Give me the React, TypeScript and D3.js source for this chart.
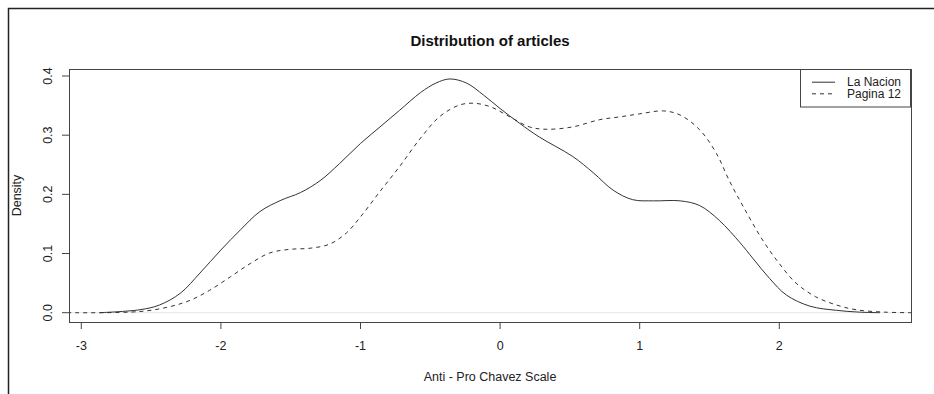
import * as d3 from "d3";

const title = "Distribution of articles";
const xLabel = "Anti - Pro Chavez Scale";
const yLabel = "Density";
const seriesNames = ["La Nacion", "Pagina 12"];
const xTicks = [-3, -2, -1, 0, 1, 2];
const yTicks = [0, 0.1, 0.2, 0.3, 0.4];

// La Nacion (solid)
const nacionX = [-2.87, -2.58, -2.44, -2.29, -2.15, -2.0, -1.86, -1.72, -1.57, -1.43, -1.29, -1.15, -1.0, -0.86, -0.72, -0.57, -0.46, -0.36, -0.24, -0.12, 0, 0.14, 0.28, 0.52, 0.67, 0.81, 0.95, 1.1, 1.29, 1.43, 1.57, 1.72, 1.81, 1.93, 2.05, 2.22, 2.41, 2.57, 2.72];
const nacionY = [0, 0.005, 0.013, 0.033, 0.067, 0.106, 0.14, 0.171, 0.19, 0.203, 0.223, 0.252, 0.286, 0.314, 0.342, 0.372, 0.388, 0.395, 0.388, 0.368, 0.345, 0.32, 0.297, 0.264, 0.236, 0.207, 0.191, 0.189, 0.189, 0.181, 0.156, 0.118, 0.092, 0.058, 0.03, 0.011, 0.004, 0.001, 0];

// Pagina 12 (dashed)
const paginaX = [-3.1, -2.58, -2.37, -2.22, -2.08, -1.93, -1.79, -1.65, -1.51, -1.36, -1.22, -1.1, -1.0, -0.86, -0.72, -0.57, -0.43, -0.29, -0.19, -0.07, 0.07, 0.21, 0.33, 0.52, 0.71, 0.86, 1.0, 1.17, 1.29, 1.43, 1.55, 1.64, 1.74, 1.88, 2.0, 2.12, 2.26, 2.41, 2.55, 2.75, 2.95];
const paginaY = [0, 0.002, 0.01, 0.021, 0.038, 0.061, 0.083, 0.101, 0.107, 0.109, 0.116, 0.135, 0.162, 0.205, 0.247, 0.295, 0.332, 0.351, 0.354, 0.348, 0.331, 0.314, 0.31, 0.314, 0.326, 0.331, 0.336, 0.341, 0.334, 0.309, 0.269, 0.224, 0.18, 0.123, 0.083, 0.05, 0.027, 0.013, 0.005, 0.001, 0];

const W = 934;
const H = 394;
const plot = { left: 69, right: 911, top: 69, bottom: 322 };
const font = "Liberation Sans, Arial, sans-serif";
const ink = "#333";

export default function App() {
  const x = d3.scaleLinear().domain([-3, 2]).range([81.3, 779.3]);
  const y = d3.scaleLinear().domain([0, 0.4]).range([312.7, 76]);

  const line = d3
    .line<[number, number]>()
    .x((d) => x(d[0]))
    .y((d) => y(d[1]))
    .curve(d3.curveCatmullRom.alpha(0.5));

  const nacion = nacionX.map((v, i) => [v, nacionY[i]] as [number, number]);
  const pagina = paginaX.map((v, i) => [v, paginaY[i]] as [number, number]);

  const midX = (plot.left + plot.right) / 2;
  const midY = (plot.top + plot.bottom) / 2;

  return (
    <svg
      width={W}
      height={H}
      style={{ position: "absolute", left: 0, top: 0, background: "#fff" }}
      fontFamily={font}
    >
      <defs>
        <clipPath id="plotclip">
          <rect x={plot.left} y={plot.top} width={plot.right - plot.left} height={plot.bottom - plot.top} />
        </clipPath>
      </defs>
      <rect x={0} y={0} width={W} height={H} fill="#fff" />
      {/* outer device frame, cropped at right and bottom */}
      <rect x={8.5} y={8.5} width={W + 20} height={H + 20} fill="none" stroke="#222" strokeWidth={1.5} />

      <text x={midX} y={45.5} textAnchor="middle" fontSize={15} fontWeight="bold" fill="#111">
        {title}
      </text>

      {/* zero line */}
      <line x1={plot.left} x2={plot.right} y1={y(0)} y2={y(0)} stroke="#e6e6e6" strokeWidth={1} />

      <g clipPath="url(#plotclip)" fill="none">
        <path d={line(nacion) ?? ""} stroke={ink} strokeWidth={1} />
        <path d={line(pagina) ?? ""} stroke={ink} strokeWidth={1} strokeDasharray="4,4" />
      </g>

      <rect
        x={plot.left + 0.5}
        y={plot.top + 0.5}
        width={plot.right - plot.left}
        height={plot.bottom - plot.top}
        fill="none"
        stroke="#444"
        strokeWidth={1}
      />

      {/* x axis */}
      <g>
        {xTicks.map((t) => (
          <g key={t} transform={`translate(${x(t)},0)`}>
            <line y1={plot.bottom} y2={plot.bottom + 7} stroke="#444" />
            <text y={350} textAnchor="middle" fontSize={12.5} fill="#222">
              {t}
            </text>
          </g>
        ))}
      </g>

      {/* y axis */}
      <g>
        {yTicks.map((t) => (
          <g key={t} transform={`translate(0,${y(t)})`}>
            <line x1={plot.left} x2={plot.left - 7} stroke="#444" />
            <text transform="translate(52,0) rotate(-90)" textAnchor="middle" fontSize={12.5} fill="#222">
              {t.toFixed(1)}
            </text>
          </g>
        ))}
      </g>

      <text x={midX} y={380.5} textAnchor="middle" fontSize={12.5} fill="#222">
        {xLabel}
      </text>
      <text transform={`translate(21,${midY}) rotate(-90)`} textAnchor="middle" fontSize={12.5} fill="#222">
        {yLabel}
      </text>

      {/* legend */}
      <g>
        <rect x={800.5} y={69.5} width={110} height={37.5} fill="#fff" stroke="#444" />
        {seriesNames.map((name, i) => (
          <g key={name} transform={`translate(0,${82.2 + i * 11.6})`}>
            <line x1={812} x2={835} stroke={ink} strokeDasharray={i === 1 ? "4,4" : undefined} />
            <text x={847} y={4.2} fontSize={12} fill="#222">
              {name}
            </text>
          </g>
        ))}
      </g>
    </svg>
  );
}
